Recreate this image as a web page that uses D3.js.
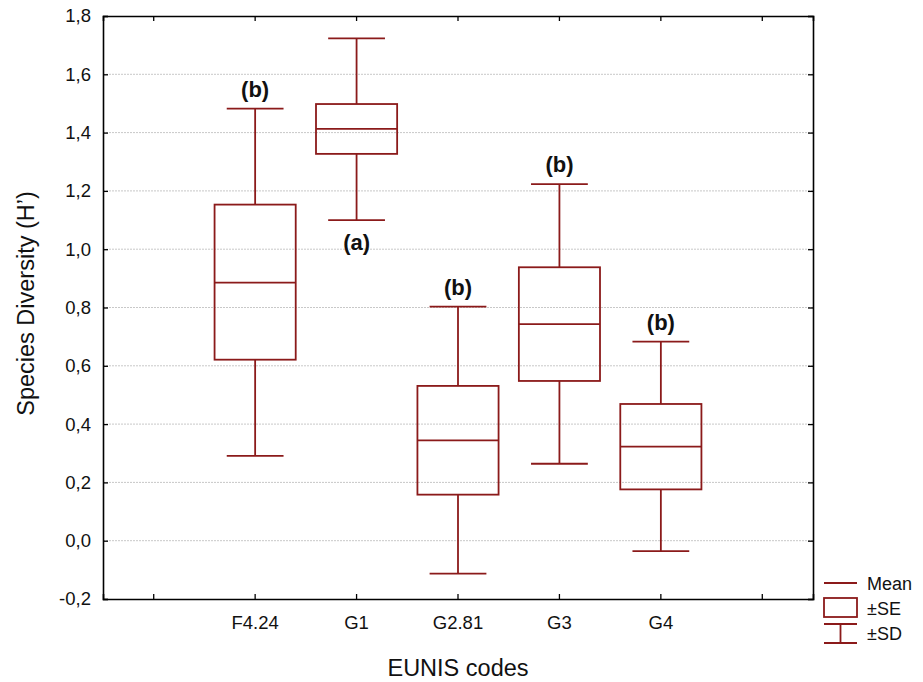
<!DOCTYPE html>
<html>
<head>
<meta charset="utf-8">
<script src="https://cdn.jsdelivr.net/npm/d3@7"></script>
<style>
  body { margin: 0; background: #fff; }
  svg { font-family: "Liberation Sans", Arial, sans-serif; }
</style>
</head>
<body>
<div id="chart"></div>
<script>
// data
var categories = ["F4.24", "G1", "G2.81", "G3", "G4"];
var means  = [0.885, 1.413, 0.344, 0.743, 0.323];
var seLow  = [0.621, 1.327, 0.158, 0.548, 0.176];
var seHigh = [1.153, 1.498, 0.531, 0.938, 0.469];
var sdLow  = [0.291, 1.100, -0.113, 0.264, -0.036];
var sdHigh = [1.482, 1.723, 0.803, 1.223, 0.683];
var letters = ["(b)", "(a)", "(b)", "(b)", "(b)"];
var letterBelow = [false, true, false, false, false];
var yTicks = [-0.2, 0, 0.2, 0.4, 0.6, 0.8, 1.0, 1.2, 1.4, 1.6, 1.8];

var col = "#8b1a1a";
var width = 923, height = 682;
var margin = {top: 16, right: 110, bottom: 83, left: 103};
var w = width - margin.left - margin.right,
    h = height - margin.top - margin.bottom;

var svg = d3.select("#chart")
  .append("svg")
  .attr("width", width)
  .attr("height", height)
  .append("g")
  .attr("transform", "translate(" + margin.left + "," + margin.top + ")");

// empty slot at each end
var slots = ["_l"].concat(categories).concat(["_r"]);
var x = d3.scaleBand().domain(slots).range([0, w]);
var y = d3.scaleLinear().domain([-0.2, 1.8]).range([h, 0]);
// comma decimals, plain hyphen for minus
var fmt = function(d) { return d.toFixed(1).replace(".", ","); };

// grid
svg.selectAll(".grid")
  .data(yTicks.slice(1, -1))
  .enter().append("line")
  .attr("x1", 0).attr("x2", w)
  .attr("y1", function(d) { return y(d); })
  .attr("y2", function(d) { return y(d); })
  .style("stroke", "#c8c8c8")
  .style("stroke-width", 1)
  .style("stroke-dasharray", "2,1");

// axes
var xb = svg.append("g")
  .attr("transform", "translate(0," + h + ")")
  .call(d3.axisBottom(x).tickSize(-5).tickPadding(17)
    .tickFormat(function(d) { return d.charAt(0) == "_" ? "" : d; }));
var xt = svg.append("g")
  .call(d3.axisTop(x).tickSize(-5).tickFormat(""));
var yl = svg.append("g")
  .call(d3.axisLeft(y).tickValues(yTicks).tickSize(-5).tickPadding(12).tickFormat(fmt));
var yr = svg.append("g")
  .attr("transform", "translate(" + w + ",0)")
  .call(d3.axisRight(y).tickValues(yTicks).tickSize(-5).tickFormat(""));

[xb, xt, yl, yr].forEach(function(a) {
  a.select(".domain").style("stroke", "#000").style("stroke-width", 1.6);
  a.selectAll(".tick line").style("stroke", "#000").style("stroke-width", 1.3);
  a.selectAll("text").style("font-size", "18.5px").style("fill", "#111")
    .style("font-family", "'Liberation Sans', Arial, sans-serif");
});

// boxes
var rows = categories.map(function(c, i) {
  return {cat: c, mean: means[i], lo: seLow[i], hi: seHigh[i],
          sdl: sdLow[i], sdh: sdHigh[i], letter: letters[i], below: letterBelow[i]};
});
var bw = x.bandwidth() * 0.8, cw = x.bandwidth() * 0.56;

var g = svg.selectAll(".box")
  .data(rows)
  .enter().append("g")
  .attr("transform", function(d) { return "translate(" + (x(d.cat) + x.bandwidth() / 2) + ",0)"; })
  .style("stroke", col)
  .style("stroke-width", 1.8)
  .style("fill", "none");

// whiskers
g.append("line").attr("x1", 0).attr("x2", 0)
  .attr("y1", function(d) { return y(d.sdh); })
  .attr("y2", function(d) { return y(d.hi); });
g.append("line").attr("x1", 0).attr("x2", 0)
  .attr("y1", function(d) { return y(d.lo); })
  .attr("y2", function(d) { return y(d.sdl); });
g.append("line").attr("x1", -cw / 2).attr("x2", cw / 2)
  .attr("y1", function(d) { return y(d.sdh); })
  .attr("y2", function(d) { return y(d.sdh); });
g.append("line").attr("x1", -cw / 2).attr("x2", cw / 2)
  .attr("y1", function(d) { return y(d.sdl); })
  .attr("y2", function(d) { return y(d.sdl); });
// SE box
g.append("rect")
  .attr("x", -bw / 2).attr("width", bw)
  .attr("y", function(d) { return y(d.hi); })
  .attr("height", function(d) { return y(d.lo) - y(d.hi); });
// mean
g.append("line").attr("x1", -bw / 2).attr("x2", bw / 2)
  .attr("y1", function(d) { return y(d.mean); })
  .attr("y2", function(d) { return y(d.mean); });

// group letters
g.append("text")
  .attr("text-anchor", "middle")
  .attr("y", function(d) { return d.below ? y(d.sdl) + 30 : y(d.sdh) - 12; })
  .text(function(d) { return d.letter; })
  .style("stroke", "none")
  .style("fill", "#111")
  .style("font-weight", "bold")
  .style("font-size", "22px");

// axis titles
svg.append("text")
  .attr("x", w / 2).attr("y", h + 77)
  .attr("text-anchor", "middle")
  .style("font-size", "23.5px").style("fill", "#111")
  .text("EUNIS codes");
svg.append("text")
  .attr("transform", "translate(" + (-margin.left + 34) + "," + (h / 2 - 4) + ") rotate(-90)")
  .attr("text-anchor", "middle")
  .style("font-size", "23.5px").style("fill", "#111")
  .text("Species Diversity (H’)");

// legend
var lg = svg.append("g").attr("transform", "translate(" + (w + 11) + "," + (h - 16) + ")");
lg.append("line").attr("x1", 0).attr("x2", 33).attr("y1", 0).attr("y2", 0)
  .style("stroke", col).style("stroke-width", 1.8);
lg.append("rect").attr("x", 0).attr("y", 15).attr("width", 33).attr("height", 19)
  .style("stroke", col).style("stroke-width", 1.8).style("fill", "none");
lg.append("line").attr("x1", 0).attr("x2", 33).attr("y1", 41).attr("y2", 41)
  .style("stroke", col).style("stroke-width", 1.8);
lg.append("line").attr("x1", 0).attr("x2", 33).attr("y1", 60).attr("y2", 60)
  .style("stroke", col).style("stroke-width", 1.8);
lg.append("line").attr("x1", 16.5).attr("x2", 16.5).attr("y1", 41).attr("y2", 60)
  .style("stroke", col).style("stroke-width", 1.8);
lg.selectAll(".lt")
  .data(["Mean", "±SE", "±SD"])
  .enter().append("text")
  .attr("x", 43)
  .attr("y", function(d, i) { return 7 + i * 25; })
  .style("font-size", "18px").style("fill", "#111")
  .text(function(d) { return d; });
</script>
</body>
</html>
